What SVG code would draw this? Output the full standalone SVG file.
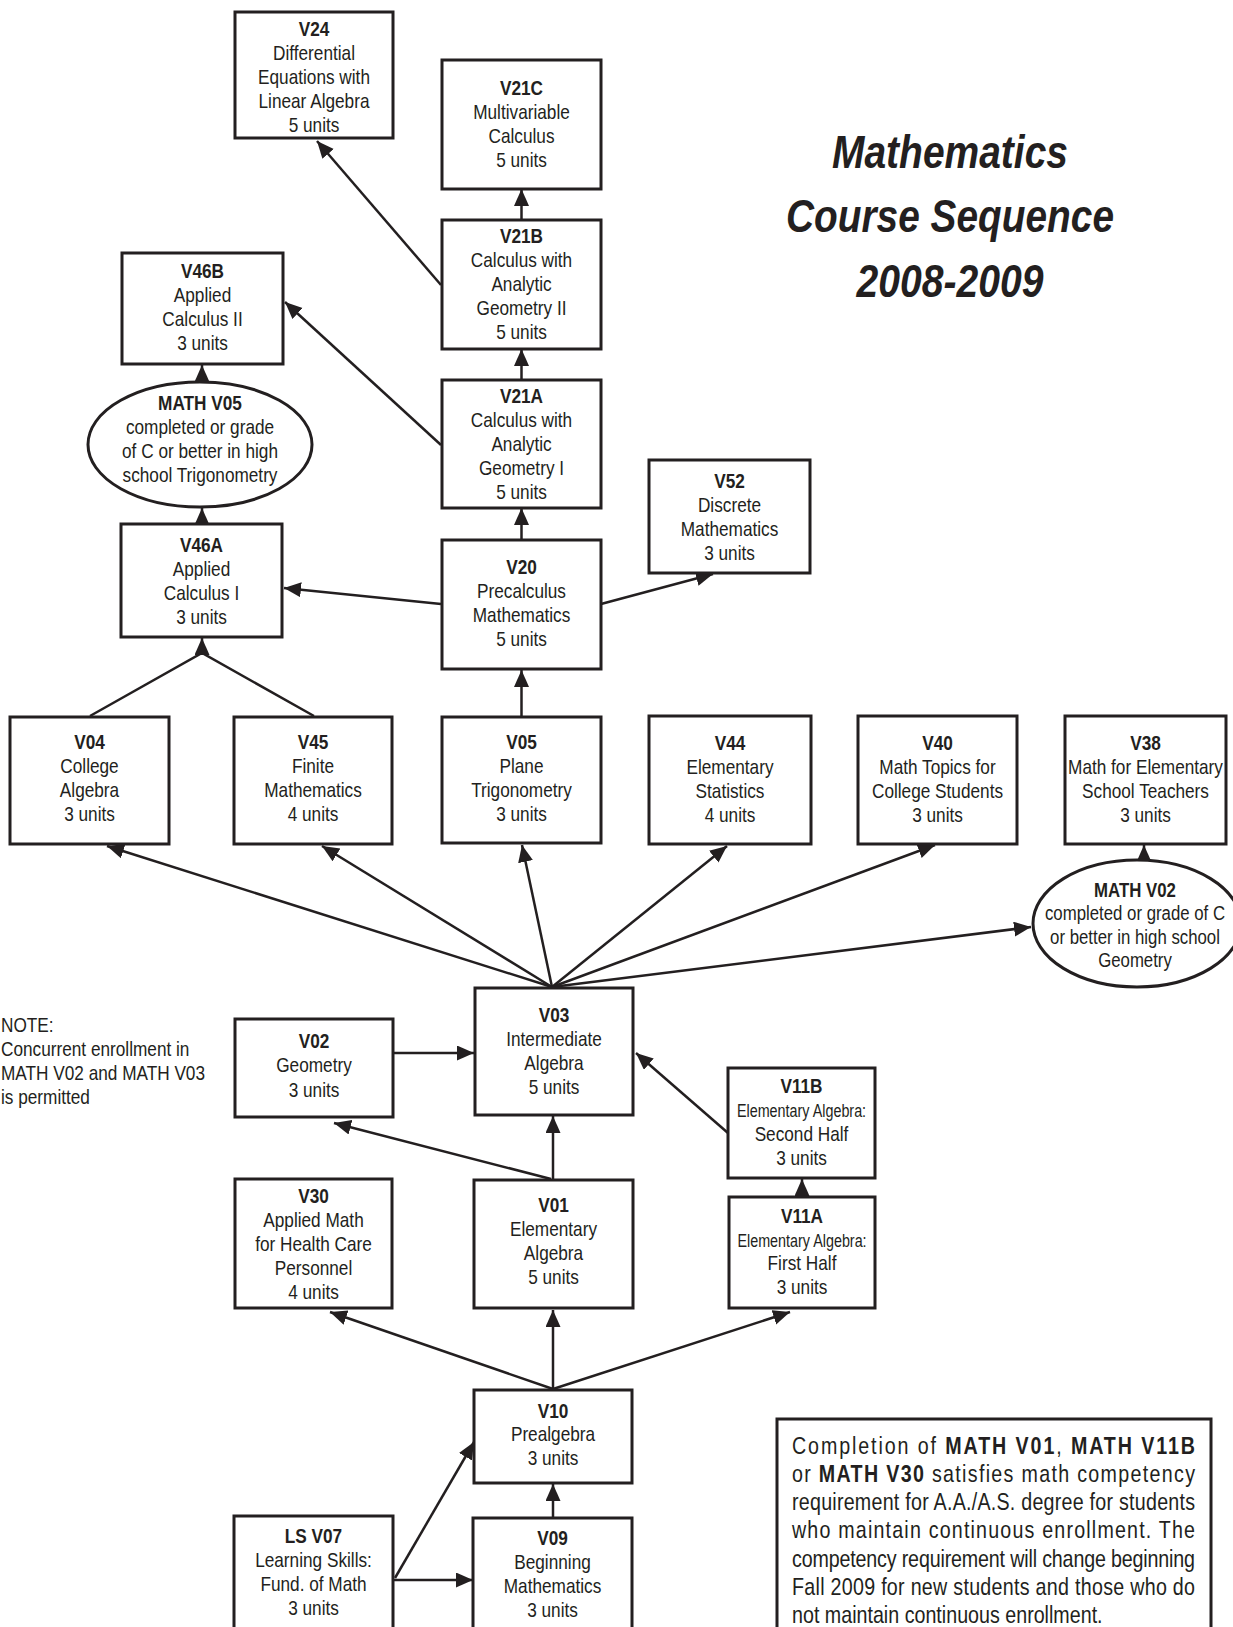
<svg xmlns="http://www.w3.org/2000/svg" width="1233" height="1627" viewBox="0 0 1233 1627">
<defs>
<marker id="ah" markerUnits="userSpaceOnUse" markerWidth="18" markerHeight="16" refX="17" refY="7.5" orient="auto"><path d="M0,0 L17,7.5 L0,15 z" fill="#231f20"/></marker>
<style>
.box{fill:#fff;stroke:#231f20;stroke-width:3}
.t{font-family:'Liberation Sans','Arial',sans-serif;font-size:21px;text-anchor:middle;fill:#231f20}
.b{font-weight:bold}
.s{font-size:17.5px}
.c{stroke:#231f20;stroke-width:2.5;fill:none;marker-end:url(#ah)}
.l{stroke:#231f20;stroke-width:2.5;fill:none}
.title{font-family:'Liberation Sans','Arial',sans-serif;font-size:46px;font-weight:bold;font-style:italic;text-anchor:middle;fill:#231f20}
.n{font-family:'Liberation Sans','Arial',sans-serif;font-size:24px;fill:#231f20}
.note{font-family:'Liberation Sans','Arial',sans-serif;font-size:21px;fill:#231f20}
</style>
</defs>
<rect width="1233" height="1627" fill="#fff"/>

<g id="title">
<text class="title" x="950" y="168" textLength="236" lengthAdjust="spacingAndGlyphs">Mathematics</text>
<text class="title" x="950" y="232" textLength="328" lengthAdjust="spacingAndGlyphs">Course Sequence</text>
<text class="title" x="950" y="297" textLength="187" lengthAdjust="spacingAndGlyphs">2008-2009</text>
</g>

<g id="connectors">
<path class="c" d="M441,285 L317,141"/>
<path class="c" d="M521.5,220 L521.5,189"/>
<path class="c" d="M521.5,380 L521.5,349"/>
<path class="c" d="M441,445 L285,302"/>
<path class="c" d="M521.5,540 L521.5,508"/>
<path class="c" d="M441,604 L284,588"/>
<path class="c" d="M601,604 L713,574"/>
<path class="c" d="M521.5,717 L521.5,670"/>
<path class="c" d="M202,382 L202,365"/>
<path class="c" d="M202,524 L202,508"/>
<path class="l" d="M90,716 L202,653 L314,716"/>
<path class="c" d="M202,655 L202,638"/>
<path class="c" d="M552,987 L107,846"/>
<path class="c" d="M552,987 L322,846"/>
<path class="c" d="M552,987 L522,845"/>
<path class="c" d="M552,987 L727,846"/>
<path class="c" d="M552,987 L935,845"/>
<path class="c" d="M552,987 L1031,927"/>
<path class="c" d="M1144,861 L1144,845"/>
<path class="c" d="M393,1053 L474,1053"/>
<path class="c" d="M553,1180 L553,1116"/>
<path class="c" d="M551,1179 L334,1123"/>
<path class="c" d="M728,1133 L636,1053"/>
<path class="c" d="M802,1197 L802,1179"/>
<path class="c" d="M553,1389 L330,1312"/>
<path class="c" d="M553,1389 L553,1310"/>
<path class="c" d="M553,1389 L790,1312"/>
<path class="c" d="M553,1518 L553,1484"/>
<path class="c" d="M394,1580 L473,1580"/>
<path class="c" d="M395,1578 L474,1442"/>
</g>

<g id="V24"><rect class="box" x="235" y="12" width="158" height="126"/>
<text class="t" transform="translate(314 0) scale(.82 1)" y="36"><tspan class="b" x="0">V24</tspan><tspan x="0" dy="24">Differential</tspan><tspan x="0" dy="24">Equations with</tspan><tspan x="0" dy="24">Linear Algebra</tspan><tspan x="0" dy="24">5 units</tspan></text></g>

<g id="V21C"><rect class="box" x="442" y="60" width="159" height="129"/>
<text class="t" transform="translate(521.5 0) scale(.82 1)" y="95"><tspan class="b" x="0">V21C</tspan><tspan x="0" dy="24">Multivariable</tspan><tspan x="0" dy="24">Calculus</tspan><tspan x="0" dy="24">5 units</tspan></text></g>

<g id="V21B"><rect class="box" x="442" y="220" width="159" height="129"/>
<text class="t" transform="translate(521.5 0) scale(.82 1)" y="243"><tspan class="b" x="0">V21B</tspan><tspan x="0" dy="24">Calculus with</tspan><tspan x="0" dy="24">Analytic</tspan><tspan x="0" dy="24">Geometry II</tspan><tspan x="0" dy="24">5 units</tspan></text></g>

<g id="V21A"><rect class="box" x="442" y="380" width="159" height="128"/>
<text class="t" transform="translate(521.5 0) scale(.82 1)" y="403"><tspan class="b" x="0">V21A</tspan><tspan x="0" dy="24">Calculus with</tspan><tspan x="0" dy="24">Analytic</tspan><tspan x="0" dy="24">Geometry I</tspan><tspan x="0" dy="24">5 units</tspan></text></g>

<g id="V46B"><rect class="box" x="122" y="253" width="161" height="111"/>
<text class="t" transform="translate(202.5 0) scale(.82 1)" y="278"><tspan class="b" x="0">V46B</tspan><tspan x="0" dy="24">Applied</tspan><tspan x="0" dy="24">Calculus II</tspan><tspan x="0" dy="24">3 units</tspan></text></g>

<g id="MATHV05"><ellipse class="box" cx="200" cy="444.5" rx="112" ry="62.5"/>
<text class="t" transform="translate(200 0) scale(.82 1)" y="410"><tspan class="b" x="0">MATH V05</tspan><tspan x="0" dy="24">completed or grade</tspan><tspan x="0" dy="24">of C or better in high</tspan><tspan x="0" dy="24">school Trigonometry</tspan></text></g>

<g id="V46A"><rect class="box" x="121" y="524" width="161" height="113"/>
<text class="t" transform="translate(201.5 0) scale(.82 1)" y="552"><tspan class="b" x="0">V46A</tspan><tspan x="0" dy="24">Applied</tspan><tspan x="0" dy="24">Calculus I</tspan><tspan x="0" dy="24">3 units</tspan></text></g>

<g id="V20"><rect class="box" x="442" y="540" width="159" height="129"/>
<text class="t" transform="translate(521.5 0) scale(.82 1)" y="574"><tspan class="b" x="0">V20</tspan><tspan x="0" dy="24">Precalculus</tspan><tspan x="0" dy="24">Mathematics</tspan><tspan x="0" dy="24">5 units</tspan></text></g>

<g id="V52"><rect class="box" x="649" y="460" width="161" height="113"/>
<text class="t" transform="translate(729.5 0) scale(.82 1)" y="488"><tspan class="b" x="0">V52</tspan><tspan x="0" dy="24">Discrete</tspan><tspan x="0" dy="24">Mathematics</tspan><tspan x="0" dy="24">3 units</tspan></text></g>

<g id="V04"><rect class="box" x="10" y="717" width="159" height="127"/>
<text class="t" transform="translate(89.5 0) scale(.82 1)" y="749"><tspan class="b" x="0">V04</tspan><tspan x="0" dy="24">College</tspan><tspan x="0" dy="24">Algebra</tspan><tspan x="0" dy="24">3 units</tspan></text></g>

<g id="V45"><rect class="box" x="234" y="717" width="158" height="127"/>
<text class="t" transform="translate(313 0) scale(.82 1)" y="749"><tspan class="b" x="0">V45</tspan><tspan x="0" dy="24">Finite</tspan><tspan x="0" dy="24">Mathematics</tspan><tspan x="0" dy="24">4 units</tspan></text></g>

<g id="V05"><rect class="box" x="442" y="717" width="159" height="126"/>
<text class="t" transform="translate(521.5 0) scale(.82 1)" y="749"><tspan class="b" x="0">V05</tspan><tspan x="0" dy="24">Plane</tspan><tspan x="0" dy="24">Trigonometry</tspan><tspan x="0" dy="24">3 units</tspan></text></g>

<g id="V44"><rect class="box" x="649" y="716" width="162" height="128"/>
<text class="t" transform="translate(730 0) scale(.82 1)" y="750"><tspan class="b" x="0">V44</tspan><tspan x="0" dy="24">Elementary</tspan><tspan x="0" dy="24">Statistics</tspan><tspan x="0" dy="24">4 units</tspan></text></g>

<g id="V40"><rect class="box" x="858" y="716" width="159" height="128"/>
<text class="t" transform="translate(937.5 0) scale(.82 1)" y="750"><tspan class="b" x="0">V40</tspan><tspan x="0" dy="24">Math Topics for</tspan><tspan x="0" dy="24">College Students</tspan><tspan x="0" dy="24">3 units</tspan></text></g>

<g id="V38"><rect class="box" x="1065" y="716" width="161" height="128"/>
<text class="t" transform="translate(1145.5 0) scale(.82 1)" y="750"><tspan class="b" x="0">V38</tspan><tspan x="0" dy="24">Math for Elementary</tspan><tspan x="0" dy="24">School Teachers</tspan><tspan x="0" dy="24">3 units</tspan></text></g>

<g id="MATHV02"><ellipse class="box" cx="1137" cy="923.5" rx="104" ry="63.5"/>
<text class="t" transform="translate(1135 0) scale(.8 1)" y="897"><tspan class="b" x="0">MATH V02</tspan><tspan x="0" dy="23.5">completed or grade of C</tspan><tspan x="0" dy="23.5">or better in high school</tspan><tspan x="0" dy="23.5">Geometry</tspan></text></g>

<g id="V03"><rect class="box" x="475" y="988" width="158" height="127"/>
<text class="t" transform="translate(554 0) scale(.82 1)" y="1022"><tspan class="b" x="0">V03</tspan><tspan x="0" dy="24">Intermediate</tspan><tspan x="0" dy="24">Algebra</tspan><tspan x="0" dy="24">5 units</tspan></text></g>

<g id="V02"><rect class="box" x="235" y="1019" width="158" height="98"/>
<text class="t" transform="translate(314 0) scale(.82 1)" y="1048"><tspan class="b" x="0">V02</tspan><tspan x="0" dy="24.5">Geometry</tspan><tspan x="0" dy="24.5">3 units</tspan></text></g>

<g id="note1">
<text class="note" transform="translate(1 0) scale(.82 1)" y="1032"><tspan x="0">NOTE:</tspan><tspan x="0" dy="24">Concurrent enrollment in</tspan><tspan x="0" dy="24">MATH V02 and MATH V03</tspan><tspan x="0" dy="24">is permitted</tspan></text>
</g>

<g id="V30"><rect class="box" x="235" y="1179" width="157" height="129"/>
<text class="t" transform="translate(313.5 0) scale(.82 1)" y="1203"><tspan class="b" x="0">V30</tspan><tspan x="0" dy="24">Applied Math</tspan><tspan x="0" dy="24">for Health Care</tspan><tspan x="0" dy="24">Personnel</tspan><tspan x="0" dy="24">4 units</tspan></text></g>

<g id="V01"><rect class="box" x="474" y="1180" width="159" height="128"/>
<text class="t" transform="translate(553.5 0) scale(.82 1)" y="1212"><tspan class="b" x="0">V01</tspan><tspan x="0" dy="24">Elementary</tspan><tspan x="0" dy="24">Algebra</tspan><tspan x="0" dy="24">5 units</tspan></text></g>

<g id="V11B"><rect class="box" x="728" y="1068" width="147" height="110"/>
<text class="t" transform="translate(801.5 0) scale(.82 1)" y="1093"><tspan class="b" x="0">V11B</tspan><tspan class="s" x="0" dy="24">Elementary Algebra:</tspan><tspan x="0" dy="24">Second Half</tspan><tspan x="0" dy="24">3 units</tspan></text></g>

<g id="V11A"><rect class="box" x="729" y="1197" width="146" height="111"/>
<text class="t" transform="translate(802 0) scale(.82 1)" y="1223"><tspan class="b" x="0">V11A</tspan><tspan class="s" x="0" dy="24">Elementary Algebra:</tspan><tspan x="0" dy="23.5">First Half</tspan><tspan x="0" dy="23.5">3 units</tspan></text></g>

<g id="V10"><rect class="box" x="474" y="1390" width="158" height="93"/>
<text class="t" transform="translate(553 0) scale(.82 1)" y="1418"><tspan class="b" x="0">V10</tspan><tspan x="0" dy="23.5">Prealgebra</tspan><tspan x="0" dy="23.5">3 units</tspan></text></g>

<g id="LSV07"><rect class="box" x="234" y="1516" width="159" height="125"/>
<text class="t" transform="translate(313.5 0) scale(.82 1)" y="1543"><tspan class="b" x="0">LS V07</tspan><tspan x="0" dy="24">Learning Skills:</tspan><tspan x="0" dy="24">Fund. of Math</tspan><tspan x="0" dy="24">3 units</tspan></text></g>

<g id="V09"><rect class="box" x="473" y="1518" width="159" height="125"/>
<text class="t" transform="translate(552.5 0) scale(.82 1)" y="1545"><tspan class="b" x="0">V09</tspan><tspan x="0" dy="24">Beginning</tspan><tspan x="0" dy="24">Mathematics</tspan><tspan x="0" dy="24">3 units</tspan></text></g>

<g id="note2"><rect class="box" x="777" y="1419" width="434" height="225"/>
<g transform="translate(792 0) scale(.82 1)">
<text class="n" x="0" y="1454" textLength="491.5" lengthAdjust="spacing">Completion of <tspan class="b">MATH V01</tspan>, <tspan class="b">MATH V11B</tspan></text>
<text class="n" x="0" y="1482" textLength="491.5" lengthAdjust="spacing">or <tspan class="b">MATH V30</tspan> satisfies math competency</text>
<text class="n" x="0" y="1510" textLength="491.5" lengthAdjust="spacing">requirement for A.A./A.S. degree for students</text>
<text class="n" x="0" y="1538" textLength="491.5" lengthAdjust="spacing">who maintain continuous enrollment. The</text>
<text class="n" x="0" y="1567" textLength="491.5" lengthAdjust="spacing">competency requirement will change beginning</text>
<text class="n" x="0" y="1595" textLength="491.5" lengthAdjust="spacing">Fall 2009 for new students and those who do</text>
<text class="n" x="0" y="1623">not maintain continuous enrollment.</text>
</g>
</g>
</svg>
